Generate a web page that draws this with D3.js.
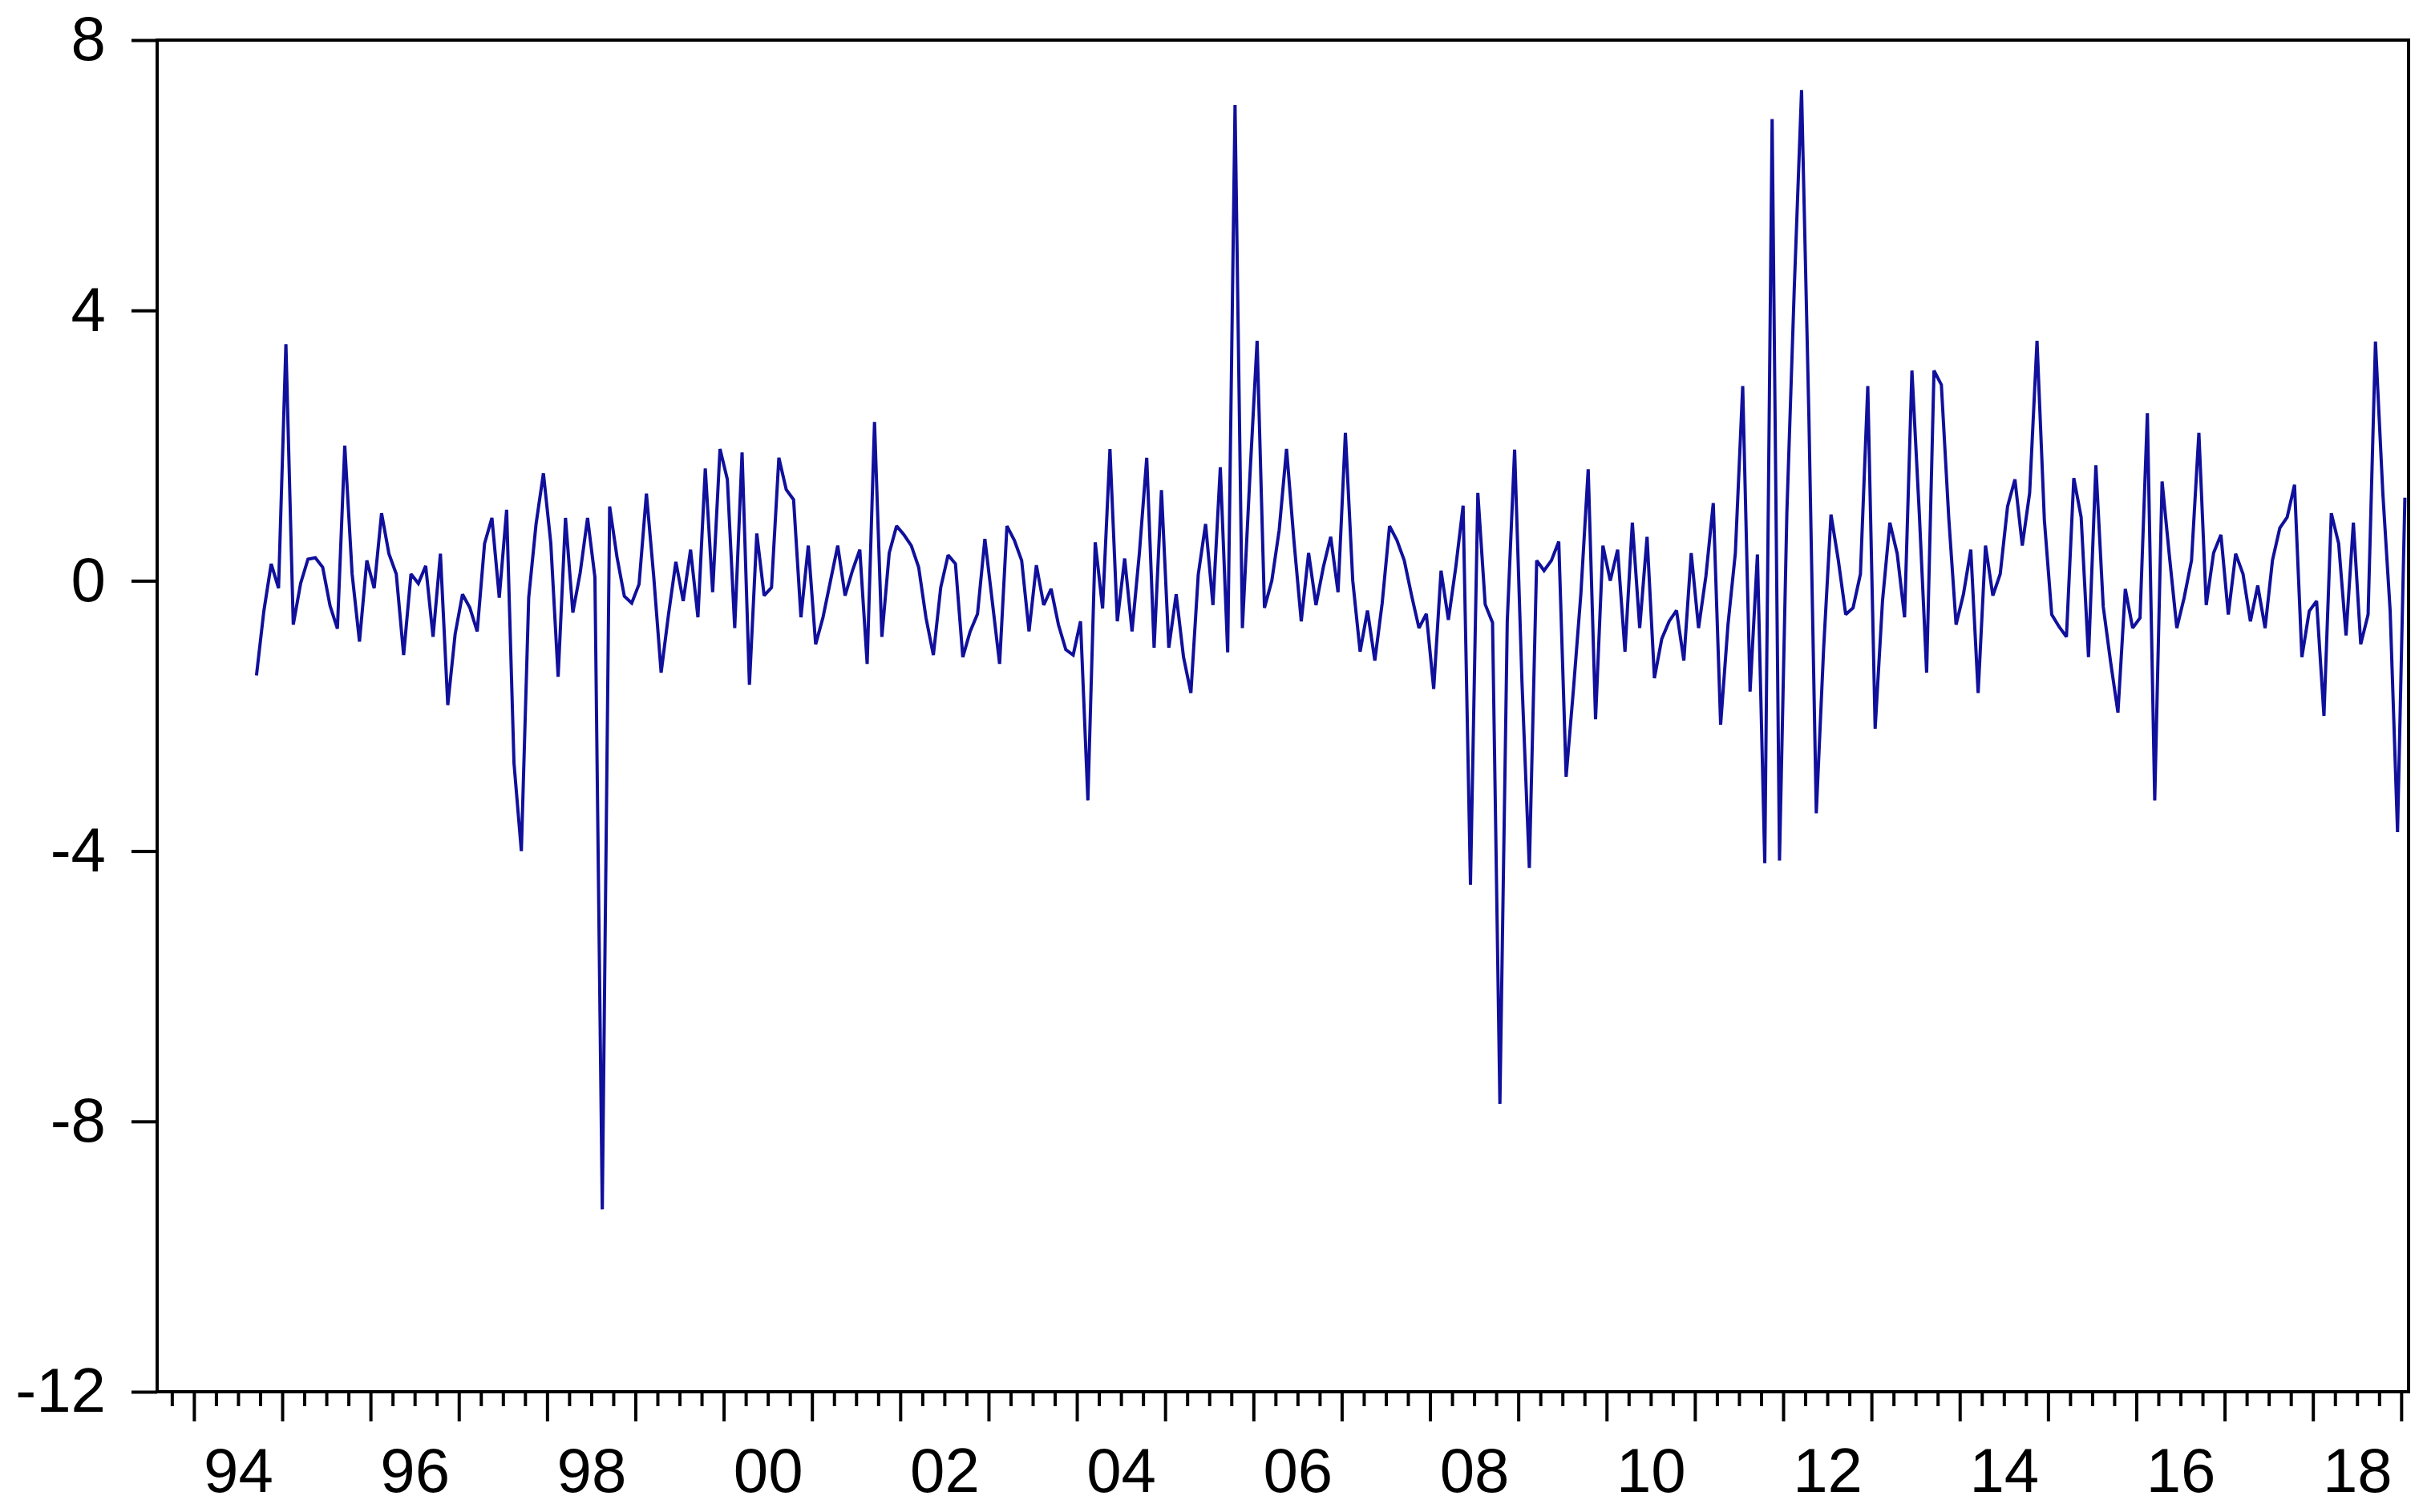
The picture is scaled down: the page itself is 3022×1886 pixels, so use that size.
<!DOCTYPE html>
<html>
<head>
<meta charset="utf-8">
<script src="https://cdn.jsdelivr.net/npm/d3@7/dist/d3.min.js"></script>
<style>
  html, body { margin: 0; padding: 0; background: #fff; }
  svg { display: block; }
</style>
</head>
<body>
<div id="chart"></div>
<script>
// monthly series, first observation 1994M9, last 2019M1
var firstYear = 1994, firstMonth = 9;
var values = [
  -1.4, -0.45, 0.25, -0.11,                                              // 1994 (Sep-Dec)
  3.5, -0.65, -0.04, 0.32, 0.34, 0.2, -0.37, -0.71, 2.0, 0.1, -0.9, 0.3,  // 1995
  -0.11, 1.0, 0.4, 0.1, -1.1, 0.1, -0.04, 0.22, -0.83, 0.4, -1.84, -0.79, // 1996
  -0.2, -0.4, -0.75, 0.55, 0.93, -0.25, 1.05, -2.7, -4.0, -0.25, 0.84, 1.59, // 1997
  0.56, -1.42, 0.93, -0.47, 0.12, 0.93, 0.05, -9.3, 1.1, 0.35, -0.23, -0.33, // 1998
  -0.05, 1.29, 0.05, -1.36, -0.5, 0.28, -0.3, 0.46, -0.54, 1.66, -0.17, 1.95, // 1999
  1.5, -0.7, 1.9, -1.54, 0.7, -0.22, -0.1, 1.82, 1.35, 1.2, -0.54, 0.52,     // 2000
  -0.94, -0.54, -0.01, 0.52, -0.22, 0.15, 0.46, -1.23, 2.35, -0.83, 0.41, 0.81, // 2001
  0.68, 0.52, 0.2, -0.55, -1.1, -0.1, 0.38, 0.25, -1.13, -0.75, -0.49, 0.62, // 2002
  -0.3, -1.23, 0.81, 0.6, 0.3, -0.75, 0.23, -0.36, -0.12, -0.65, -1.02, -1.1, // 2003
  -0.6, -3.25, 0.57, -0.41, 1.95, -0.6, 0.33, -0.75, 0.41, 1.82, -0.99, 1.34, // 2004
  -0.99, -0.2, -1.13, -1.66, 0.09, 0.84, -0.36, 1.68, -1.06, 7.04, -0.7, 1.5, // 2005
  3.55, -0.4, 0.0, 0.75, 1.95, 0.6, -0.6, 0.41, -0.36, 0.2, 0.65, -0.17,     // 2006
  2.19, 0.0, -1.05, -0.44, -1.18, -0.33, 0.81, 0.6, 0.3, -0.22, -0.7, -0.49, // 2007
  -1.6, 0.15, -0.58, 0.2, 1.11, -4.5, 1.3, -0.35, -0.62, -7.74, -0.6, 1.94,  // 2008
  -1.5, -4.25, 0.3, 0.15, 0.3, 0.58, -2.9, -1.6, -0.2, 1.65, -2.05, 0.52,    // 2009
  0.0, 0.46, -1.05, 0.86, -0.7, 0.65, -1.44, -0.86, -0.6, -0.44, -1.18, 0.41, // 2010
  -0.7, 0.07, 1.15, -2.13, -0.65, 0.41, 2.88, -1.64, 0.39, -4.18, 6.83, -4.14, // 2011
  1.0, 4.3, 7.26, 2.4, -3.44, -1.0, 0.98, 0.3, -0.5, -0.4, 0.1, 2.88,        // 2012
  -2.19, -0.3, 0.86, 0.4, -0.54, 3.11, 1.0, -1.36, 3.11, 2.9, 0.94, -0.65,   // 2013
  -0.2, 0.46, -1.66, 0.52, -0.22, 0.1, 1.1, 1.5, 0.52, 1.3, 3.55, 0.9,       // 2014
  -0.5, -0.68, -0.83, 1.52, 0.94, -1.13, 1.71, -0.38, -1.2, -1.95, -0.12, -0.7, // 2015
  -0.55, 2.48, -3.25, 1.47, 0.36, -0.7, -0.25, 0.3, 2.19, -0.36, 0.41, 0.68, // 2016
  -0.5, 0.4, 0.1, -0.6, -0.07, -0.7, 0.3, 0.78, 0.94, 1.42, -1.13, -0.45,    // 2017
  -0.3, -2.0, 1.0, 0.55, -0.81, 0.86, -0.94, -0.5, 3.54, 1.3, -0.45, -3.72,  // 2018
  1.23                                                                     // 2019 (Jan)
];

var yTicks = [-12, -8, -4, 0, 4, 8];
var yearLabels = ["94", "96", "98", "00", "02", "04", "06", "08", "10", "12", "14", "16", "18"];
var labelYears = [1994, 1996, 1998, 2000, 2002, 2004, 2006, 2008, 2010, 2012, 2014, 2016, 2018];

var chartSize = { width: 3022, height: 1886 };
var frame = { left: 196, right: 3004, top: 50, bottom: 1736 };
var fontFamily = "'Liberation Sans', Arial, sans-serif";

var svg = d3.select("#chart").append("svg")
    .attr("width", chartSize.width)
    .attr("height", chartSize.height);

svg.append("rect")
    .attr("width", chartSize.width).attr("height", chartSize.height)
    .attr("fill", "#fff");

// workfile runs 1993M08 .. 2019M01, each month is one slot
var x = d3.scaleLinear()
    .domain([1993 + 7 / 12, 2019 + 1 / 12])
    .range([frame.left, frame.right]);
var y = d3.scaleLinear()
    .domain([-12, 8])
    .range([frame.bottom, frame.top]);

var data = values.map(function(v, i) {
    var m = firstMonth - 1 + i;
    return { t: firstYear + (m + 0.5) / 12, v: v };
});

// ticks along the bottom: years long, quarters short
var majors = d3.range(1994, 2020);
var minors = d3.range(1993.75, 2019.01, 0.25).filter(function(t) { return Math.abs(t - Math.round(t)) > 0.01; });

function styleAxis(sel) {
    sel.select(".domain").remove();
    sel.selectAll(".tick line").attr("stroke", "#000").attr("stroke-width", 4);
    sel.selectAll(".tick text")
        .attr("fill", "#000")
        .style("font-family", fontFamily)
        .style("font-size", "78px");
}

svg.append("g")
    .attr("transform", "translate(0," + frame.bottom + ")")
    .call(d3.axisBottom(x).tickValues(minors).tickSize(18).tickFormat(""))
    .call(styleAxis);

svg.append("g")
    .attr("transform", "translate(0," + frame.bottom + ")")
    .call(d3.axisBottom(x).tickValues(majors).tickSize(37).tickFormat(""))
    .call(styleAxis);

svg.append("g")
    .attr("transform", "translate(0," + frame.bottom + ")")
    .call(d3.axisBottom(x)
        .tickValues(labelYears.map(function(yr) { return yr + 0.5; }))
        .tickSize(0)
        .tickPadding(70)
        .tickFormat(function(d, i) { return yearLabels[i]; }))
    .call(styleAxis);

svg.append("g")
    .attr("transform", "translate(" + frame.left + ",0)")
    .call(d3.axisLeft(y).tickValues(yTicks).tickSize(32).tickPadding(32)
        .tickFormat(function(d) { return String(d); }))
    .call(styleAxis);

// series
var line = d3.line()
    .x(function(d) { return x(d.t); })
    .y(function(d) { return y(d.v); });

svg.append("path")
    .datum(data)
    .attr("d", line)
    .attr("fill", "none")
    .attr("stroke", "#10109c")
    .attr("stroke-width", 4)
    .attr("stroke-linejoin", "miter")
    .attr("stroke-miterlimit", 2);

// frame
svg.append("rect")
    .attr("x", frame.left).attr("y", frame.top)
    .attr("width", frame.right - frame.left).attr("height", frame.bottom - frame.top)
    .attr("fill", "none")
    .attr("stroke", "#000")
    .attr("stroke-width", 4);
</script>
</body>
</html>
